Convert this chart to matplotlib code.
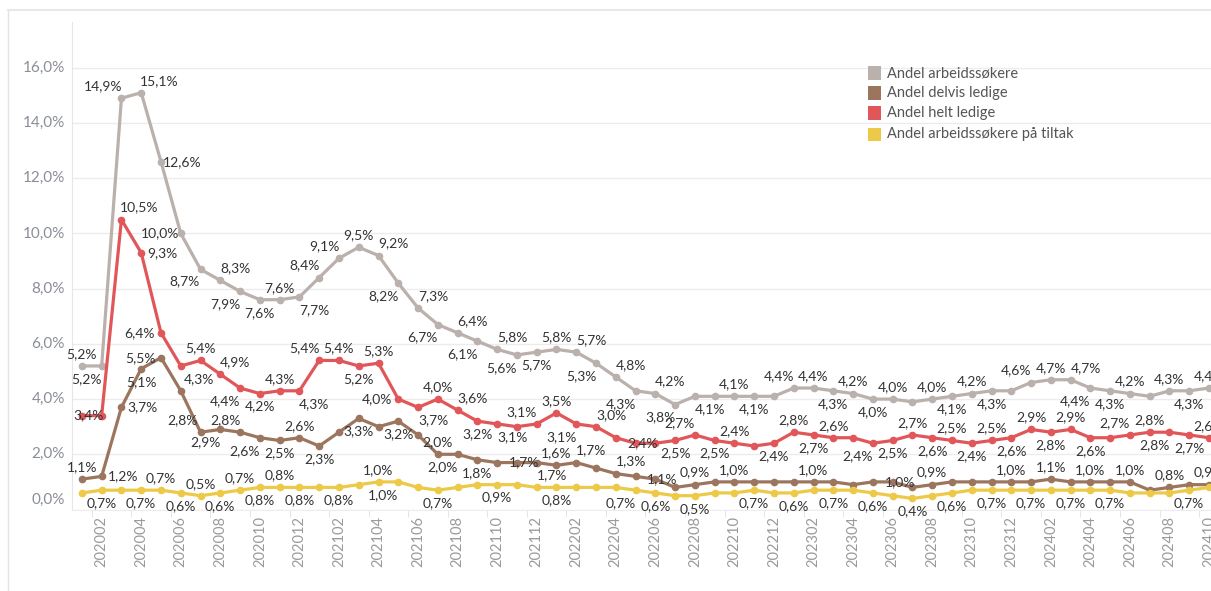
import matplotlib.pyplot as plt
from matplotlib.patches import Rectangle
from matplotlib.lines import Line2D

plt.rcParams['font.family'] = ['Lato', 'DejaVu Sans']

# months 202001 .. 202410
months = ["202001", "202002", "202003", "202004", "202005", "202006", "202007", "202008", "202009", "202010", "202011", "202012",
          "202101", "202102", "202103", "202104", "202105", "202106", "202107", "202108", "202109", "202110", "202111", "202112",
          "202201", "202202", "202203", "202204", "202205", "202206", "202207", "202208", "202209", "202210", "202211", "202212",
          "202301", "202302", "202303", "202304", "202305", "202306", "202307", "202308", "202309", "202310", "202311", "202312",
          "202401", "202402", "202403", "202404", "202405", "202406", "202407", "202408", "202409", "202410"]

arbeidssokere = [5.2, 5.2, 14.9, 15.1, 12.6, 10.0, 8.7, 8.3, 7.9, 7.6,
                 7.6, 7.7, 8.4, 9.1, 9.5, 9.2, 8.2, 7.3, 6.7, 6.4,
                 6.1, 5.8, 5.6, 5.7, 5.8, 5.7, 5.3, 4.8, 4.3, 4.2,
                 3.8, 4.1, 4.1, 4.1, 4.1, 4.1, 4.4, 4.4, 4.3, 4.2,
                 4.0, 4.0, 3.9, 4.0, 4.1, 4.2, 4.3, 4.3, 4.6, 4.7,
                 4.7, 4.4, 4.3, 4.2, 4.1, 4.3, 4.3, 4.4]
helt_ledige = [3.4, 3.4, 10.5, 9.3, 6.4, 5.2, 5.4, 4.9, 4.4, 4.2,
               4.3, 4.3, 5.4, 5.4, 5.2, 5.3, 4.0, 3.7, 4.0, 3.6,
               3.2, 3.1, 3.0, 3.1, 3.5, 3.1, 3.0, 2.6, 2.4, 2.4,
               2.5, 2.7, 2.5, 2.4, 2.3, 2.4, 2.8, 2.7, 2.6, 2.6,
               2.4, 2.5, 2.7, 2.6, 2.5, 2.4, 2.5, 2.6, 2.9, 2.8,
               2.9, 2.6, 2.6, 2.7, 2.8, 2.8, 2.7, 2.6]
delvis_ledige = [1.1, 1.2, 3.7, 5.1, 5.5, 4.3, 2.8, 2.9, 2.8, 2.6,
                 2.5, 2.6, 2.3, 2.8, 3.3, 3.0, 3.2, 2.7, 2.0, 2.0,
                 1.8, 1.7, 1.7, 1.7, 1.6, 1.7, 1.5, 1.3, 1.2, 1.1,
                 0.8, 0.9, 1.0, 1.0, 1.0, 1.0, 1.0, 1.0, 1.0, 0.9,
                 1.0, 1.0, 0.8, 0.9, 1.0, 1.0, 1.0, 1.0, 1.0, 1.1,
                 1.0, 1.0, 1.0, 1.0, 0.7, 0.8, 0.9, 0.9]
tiltak = [0.6, 0.7, 0.7, 0.7, 0.7, 0.6, 0.5, 0.6, 0.7, 0.8,
          0.8, 0.8, 0.8, 0.8, 0.9, 1.0, 1.0, 0.8, 0.7, 0.8,
          0.9, 0.9, 0.9, 0.8, 0.8, 0.8, 0.8, 0.8, 0.7, 0.6,
          0.5, 0.5, 0.6, 0.6, 0.7, 0.6, 0.6, 0.7, 0.7, 0.7,
          0.6, 0.5, 0.4, 0.5, 0.6, 0.7, 0.7, 0.7, 0.7, 0.7,
          0.7, 0.7, 0.7, 0.6, 0.6, 0.6, 0.7, 0.8]

# label placement per point: a above, b below, A/B above/below shifted left,
# e/f above/below shifted right, l left, r right, c on point,
# q above-left, p above-right, z below-left, - no label
pos_arb = "aBqprlzeBb" + "afAAaeBeBe" + "BeBbaeBeBe" + "Bf-ab-Aaba" + "ba-abab-Aa" + "eBba-aba"
pos_helt = "c-prl-aeBb" + "afAabalfae" + "bf-AaBe-c-" + "bAba-baba-" + "Bbabababab" + "ab-AaBba"
pos_delvis = "arrblpqBAB" + "bab-b-b-aB" + "b-cfae-e-c" + "-a-a---a--" + "-c-a---a-a" + "-a-a-a-a"
pos_tiltak = "-b-bababab" + "ab-b-aB-b-" + "-b--b---Bb" + "-b--b-b-b-" + "b-b-b-b-b-" + "b-b---b-"

names = ["Andel arbeidssøkere", "Andel delvis ledige", "Andel helt ledige", "Andel arbeidssøkere på tiltak"]
colors = ["#bab0ac", "#9c755f", "#e15759", "#edc948"]

offsets = {'a': (0, 12), 'b': (0, -13), 'A': (-15, 12), 'B': (-15, -13), 'e': (15, 12), 'f': (15, -13),
           'l': (-21, 0), 'r': (21, 0), 'c': (7, 0), 'q': (-18, 12), 'p': (18, 12), 'z': (-16, -12)}

W, H = 1211, 591
fig = plt.figure(figsize=(W / 100, H / 100), dpi=100)
ax = fig.add_axes([72 / W, (H - 509.5) / H, (W - 72) / W, (509.5 - 22) / H])

x = list(range(len(months)))
series = [(arbeidssokere, colors[0], pos_arb),
          (delvis_ledige, colors[1], pos_delvis),
          (helt_ledige, colors[2], pos_helt),
          (tiltak, colors[3], pos_tiltak)]

for vals, col, pos in series:
    ax.plot(x, vals, color=col, lw=2.3, marker='o', ms=4.5, solid_joinstyle='round', zorder=3, clip_on=False)
    for i, (v, p) in enumerate(zip(vals, pos)):
        if p == '-':
            continue
        dx, dy = offsets[p]
        ax.annotate(f"{v:.1f}%".replace('.', ','), (i, v), xytext=(dx, dy), textcoords='offset pixels',
                    ha='center', va='center', fontsize=10, color='#333333', zorder=5)

ax.set_xlim(-0.5, 57.1)
ax.set_ylim(0, 17.66)

# y axis: gridlines and labels
yticks = [0, 2, 4, 6, 8, 10, 12, 14, 16]
ax.set_yticks(yticks)
ax.yaxis.grid(True, color='#ececec', lw=1)
ax.set_axisbelow(True)
ax.tick_params(axis='y', left=False, labelleft=False)
for v in yticks:
    dy = 10 if v == 0 else 0
    ax.annotate(f"{v:.1f}%".replace('.', ','), (0, v), xycoords=ax.get_yaxis_transform(),
                xytext=(-7, dy), textcoords='offset pixels', ha='right', va='center',
                fontsize=11, color='#8a8e98')

# x axis: every second month labelled
lab_idx = x[1::2]
ax.set_xticks(lab_idx)
ax.set_xticklabels([months[i] for i in lab_idx], rotation=90, fontsize=10.5, color='#9a9a9a')
ax.set_xticks([i - 0.5 for i in lab_idx], minor=True)
ax.tick_params(axis='x', which='major', length=0, pad=5)
ax.tick_params(axis='x', which='minor', length=5, color='#e0e0e0')

for s in ['top', 'right']:
    ax.spines[s].set_visible(False)
ax.spines['left'].set_color('#e6e6e6')
ax.spines['bottom'].set_color('#ededed')

# outer pane lines
fig.add_artist(Line2D([7.5 / W, 7.5 / W], [1 - 10 / H, 0], transform=fig.transFigure, color='#e3e3e3', lw=1))
fig.add_artist(Line2D([7.5 / W, 1], [1 - 10 / H, 1 - 10 / H], transform=fig.transFigure, color='#e8e8e8', lw=1.5))

# legend
leg_y = [73, 93, 113, 134]
for name, col, yc in zip(names, colors, leg_y):
    fig.add_artist(Rectangle((868 / W, 1 - (yc + 6.5) / H), 13 / W, 13 / H, transform=fig.transFigure,
                             color=col, lw=0))
    fig.text(887 / W, 1 - yc / H, name, ha='left', va='center', fontsize=10.5, color='#555555')

fig.savefig('out.png', dpi=100, facecolor='white')
